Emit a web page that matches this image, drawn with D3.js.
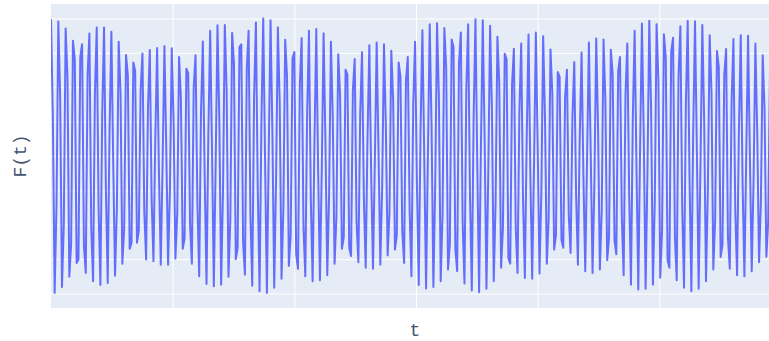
<!DOCTYPE html>
<html>
<head>
<meta charset="utf-8">
<script src="https://cdn.jsdelivr.net/npm/d3@7"></script>
<style>
  html, body { margin: 0; padding: 0; background: #fff; }
  svg { display: block; }
</style>
</head>
<body>
<svg id="chart"></svg>
<script>
// t runs over evenly spaced samples, F(t)
const tStart = 0;
const tEnd = 6;
const sampleCount = 400;
const xTicks = [1, 2, 3, 4, 5];
const yTicks = [-4, -3, -2, -1, 0, 1, 2, 3, 4];
const yRange = [-4.42, 4.42];

const fValues = [
  3.98, 1.17, -3.98, -1.46, 3.91, 1.73, -3.81, -1.99, 3.71, 2.30, -3.51, -2.57,
  3.35, 2.82, -3.11, -3.01, 2.88, 3.25, -2.62, -3.40, 2.36, 3.56, -2.09, -3.64,
  1.80, 3.74, -1.50, -3.75, 1.26, 3.74, -0.97, -3.69, 0.73, 3.61, -0.19, -3.48,
  -1.55, 3.32, 1.84, -3.13, -2.09, 2.94, 2.35, -2.70, -2.52, 2.72, 2.48, -2.52,
  -2.18, 1.94, 2.98, -1.65, -3.01, 1.39, 3.08, -1.24,
  -3.06, 0.50, 3.14, -0.50, -3.16, -0.23, 3.20, 0.23, -3.16, -0.97, 3.13, 0.97,
  -2.99, -1.69, 2.88, 1.69, -2.70, -2.40, 2.54, 2.40, -1.99, -3.13, 1.99, 2.93,
  -1.32, -3.50, 1.32, 3.33, -0.60, -3.72, 0.60, 3.64, 0.21, -3.79, -0.21, 3.80,
  1.05, -3.74, -1.05, 3.81, 1.90, -3.51, -1.90, 3.58, 2.68, -3.00, -2.68, 3.17,
  3.25, -2.50, -3.45, 2.50, 3.64, -1.74, -3.77, 1.74, 3.88, -0.93, -3.93, 0.93,
  4.00, -0.10, -3.98, 0.10, 3.95, 0.73, -3.83, -0.73, 3.74, 1.55, -3.57, -1.55,
  3.38, 2.32, -3.20, -2.32, 2.85, 3.02, -2.85, -3.28, 2.06, 3.43, -2.06, -3.50,
  1.22, 3.64, -1.22, -3.64, 0.40, 3.69, -0.40, -3.61, -0.39, 3.57, 0.39, -3.47,
  -1.12, 3.32, 1.12, -3.13, -1.78, 2.96, 1.78, -2.70, -2.37, 2.51, 2.37, -2.67,
  -2.91, 1.91, 2.82, -1.91, -3.09, 1.20, 3.02, -1.20, -3.25, 0.53, 3.22, -0.53,
  -3.28, -0.18, 3.30, 0.18, -3.16, -0.90, 3.25, 0.90, -2.89, -1.62, 3.06, 1.62,
  -2.72, -2.30, 2.72, 2.30, -2.18, -3.11, 2.18, 2.88, -1.53, -3.50, 1.53, 3.32,
  -0.81, -3.75, 0.81, 3.66, 0.00, -3.85, 0.00, 3.83, 0.85, -3.81, -0.85, 3.86,
  1.72, -3.64, -1.72, 3.72, 2.57, -3.30, -2.57, 3.39, 3.16, -2.70, -3.35, 2.70,
  3.59, -1.95, -3.71, 1.95, 3.83, -1.13, -3.91, 1.13, 3.98, -0.31, -3.96, 0.31,
  3.95, 0.52, -3.86, -0.52, 3.79, 1.34, -3.64, -1.34, 3.47, 2.13, -3.25, -2.13,
  2.97, 2.82, -2.97, -3.13, 2.08, 3.12, -2.08, -3.40, 1.25, 3.27, -1.25, -3.55,
  0.50, 3.53, -0.50, -3.57, -0.30, 3.59, 0.30, -3.42, -1.11, 3.48, 1.11, -3.13,
  -1.83, 3.10, 1.83, -2.72, -2.30, 2.44, 2.30, -2.44, -2.67, 1.73, 2.51, -1.73,
  -2.82, 1.13, 2.73, -1.13, -3.16, 0.56, 3.01, -0.56, -3.35, -0.09, 3.30, 0.09,
  -3.40, -0.82, 3.42, 0.82, -3.30, -1.62, 3.39, 1.62, -3.03, -2.38, 3.09, 2.38,
  -2.46, -2.86, 2.46, 2.88, -1.77, -3.47, 1.77, 3.27, -1.08, -3.74, 1.08, 3.64,
  -0.30, -3.88, 0.30, 3.85, 0.52, -3.86, -0.52, 3.93, 1.36, -3.74, -1.36, 3.83,
  2.17, -3.54, -2.17, 3.54, 2.88, -3.03, -3.25, 3.03, 3.44, -2.33, -3.61, 2.33,
  3.77, -1.50, -3.83, 1.50, 3.93, -0.64, -3.93, 0.64, 3.92, 0.21, -3.86, -0.21,
  3.81, 1.05, -3.64, -1.05, 3.51, 1.86, -3.30, -1.86, 3.05, 2.59, -2.94, -2.59,
  2.36, 3.11, -2.36, -3.28, 1.57, 3.40, -1.57, -3.47, 0.77, 3.51, -0.77, -3.50,
  0.00, 3.50, 0.00, -3.35, -0.72, 3.27, 0.72, -3.09, -1.35, 2.93, 1.35, -2.93,
  -1.91, 2.51, 1.91, -2.51
];

const width = 769, height = 341;
const margin = {top: 4, left: 51};
const plotW = 730, plotH = 304;

const svg = d3.select('#chart')
  .attr('width', width)
  .attr('height', height)
  .style('font-family', '"Liberation Mono", "Courier New", monospace');

const dt = (tEnd - tStart) / (sampleCount - 1);
const data = fValues.map((f, i) => ({t: tStart + i * dt, f: f}));

const x = d3.scaleLinear().domain([tStart, tEnd]).range([margin.left, margin.left + plotW]);
const y = d3.scaleLinear().domain(yRange).range([margin.top + plotH, margin.top]);

svg.append('rect')
  .attr('x', margin.left).attr('y', margin.top)
  .attr('width', plotW).attr('height', plotH)
  .attr('fill', '#E5ECF6');

svg.append('clipPath').attr('id', 'plotClip')
  .append('rect')
  .attr('x', margin.left).attr('y', margin.top)
  .attr('width', plotW).attr('height', plotH);

// grid
svg.append('g')
  .attr('transform', 'translate(0,' + (margin.top + plotH) + ')')
  .call(d3.axisBottom(x).tickValues(xTicks).tickSize(-plotH).tickFormat(''))
  .call(g => g.select('.domain').remove())
  .call(g => g.selectAll('line').attr('stroke', '#fff').attr('stroke-width', 1));

svg.append('g')
  .attr('transform', 'translate(' + margin.left + ',0)')
  .call(d3.axisLeft(y).tickValues(yTicks).tickSize(-plotW).tickFormat(''))
  .call(g => g.select('.domain').remove())
  .call(g => g.selectAll('line')
    .attr('stroke', '#fff')
    .attr('stroke-width', d => d === 0 ? 2 : 1));

const line = d3.line()
  .x(d => x(d.t))
  .y(d => y(d.f));

svg.append('path')
  .datum(data)
  .attr('clip-path', 'url(#plotClip)')
  .attr('fill', 'none')
  .attr('stroke', '#636efa')
  .attr('stroke-width', 2)
  .attr('stroke-linejoin', 'round')
  .attr('d', line);

// axis titles
svg.append('text')
  .attr('x', 415).attr('y', 336)
  .attr('text-anchor', 'middle')
  .attr('fill', '#44546c')
  .style('font-size', '18px')
  .text('t');

svg.append('text')
  .attr('transform', 'translate(26,' + (margin.top + plotH / 2) + ') rotate(-90)')
  .attr('text-anchor', 'middle')
  .attr('fill', '#44546c')
  .style('font-size', '18px')
  .text('F(t)');
</script>
</body>
</html>
